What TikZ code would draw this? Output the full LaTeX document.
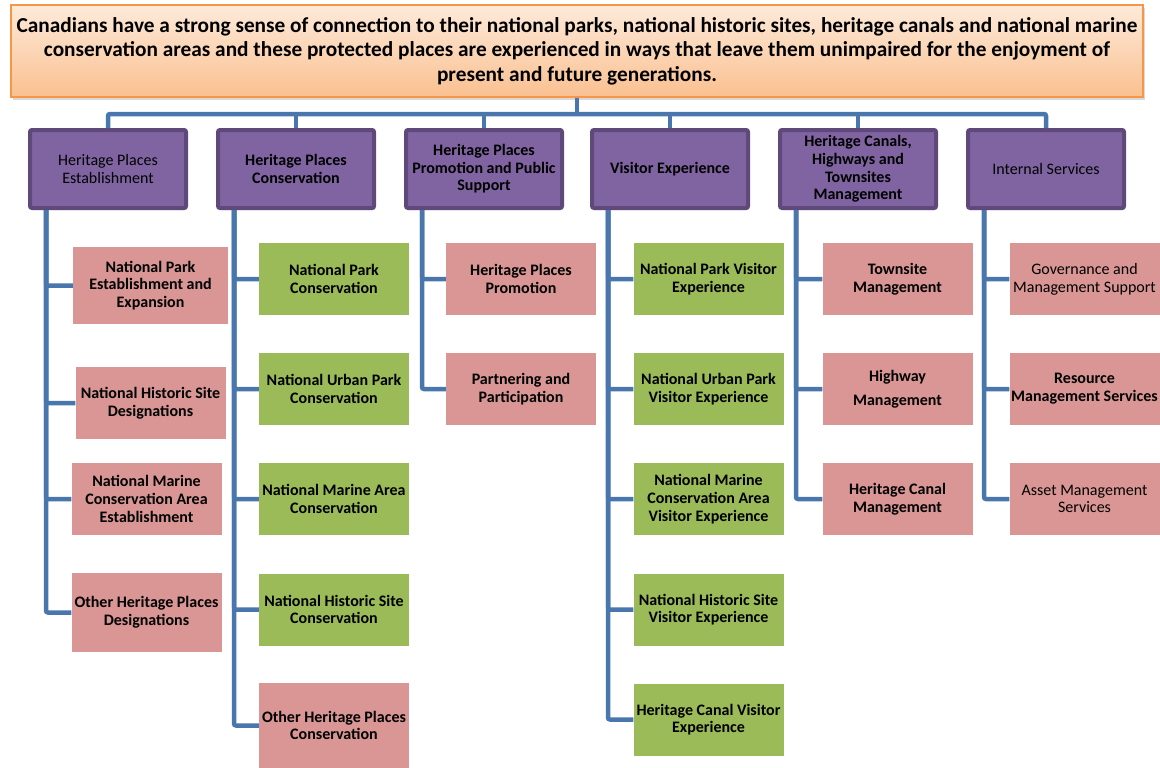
\documentclass[tikz,border=0pt]{standalone}
\usepackage{fontspec}
\setmainfont{Carlito}
\usetikzlibrary{shadows}
\definecolor{goalTop}{HTML}{FDEADA}
\definecolor{goalBot}{HTML}{FAC090}
\definecolor{goalLine}{HTML}{F79646}
\definecolor{areaFill}{HTML}{8064A2}
\definecolor{areaLine}{HTML}{5F497A}
\definecolor{progPink}{HTML}{D99694}
\definecolor{progGreen}{HTML}{9BBB59}
\definecolor{linkBlue}{HTML}{4A76AE}

\begin{document}
\begin{tikzpicture}[x=1pt, y=-1pt,
            goal/.style={draw=goalLine, line width=1.5pt, top color=goalTop,
                    bottom color=goalBot, minimum width=1132pt, minimum height=92pt,
                    inner sep=1pt, align=center,
                    font=\fontsize{21.3}{24.5}\selectfont\bfseries,
                    drop shadow={shadow xshift=2pt, shadow yshift=-3pt, opacity=0.3}},
            area/.style={draw=areaLine, line width=4pt, fill=areaFill,
                    rounded corners=2pt, minimum width=156pt, minimum height=78pt,
                    inner sep=1pt, align=center,
                    font=\fontsize{16}{17.6}\selectfont\bfseries,
                    drop shadow={shadow xshift=1.5pt, shadow yshift=-2pt, opacity=0.25}},
            prog/.style={fill=progPink, minimum width=150pt, minimum height=72pt,
                    inner sep=1pt, align=center,
                    font=\fontsize{16}{17.7}\selectfont\bfseries},
            progG/.style={prog, fill=progGreen},
            light/.style={font=\fontsize{16}{17.7}\selectfont},
            link/.style={draw=linkBlue, line width=4.5pt, rounded corners=2pt}
        ]
        \useasboundingbox (0,0) rectangle (1160,768);
        \def\xb{334}
        \def\xc{521}
        \def\xd{708.5}
        \def\xe{897.5}
        \def\xf{1084.5}
        \def\ra{279}
        \def\rb{389}
        \def\rc{499}
        \def\rd{609.5}
        \def\re{719.5}

        \node[goal] (goal) at (577,51) {Canadians have a strong sense of connection to their national parks, national historic sites, heritage canals and national marine\\conservation areas and these protected places are experienced in ways that leave them unimpaired for the enjoyment of\\present and future generations.};

        \node[area, light] (h1) at (108,169) {Heritage Places\\Establishment};
        \node[area] (h2) at (296,169) {Heritage Places\\Conservation};
        \node[area] (h3) at (484,169) {Heritage Places\\Promotion and Public\\Support};
        \node[area] (h4) at (670,169) {Visitor Experience};
        \node[area] (h5) at (858,169) {Heritage Canals,\\Highways and\\Townsites\\Management};
        \node[area, light] (h6) at (1046,169) {Internal Services};

        \node[prog, minimum width=155pt, minimum height=77pt] (e1) at (150.5,285.5) {National Park\\Establishment and\\Expansion};
        \node[prog] (e2) at (150.5,403) {National Historic Site\\Designations};
        \node[prog] (e3) at (146.5,499) {National Marine\\Conservation Area\\Establishment};
        \node[prog, minimum height=79pt] (e4) at (146.5,612.5) {Other Heritage Places\\Designations};

        \node[progG] (c1) at (\xb,\ra) {National Park\\Conservation};
        \node[progG] (c2) at (\xb,\rb) {National Urban Park\\Conservation};
        \node[progG] (c3) at (\xb,\rc) {National Marine Area\\Conservation};
        \node[progG] (c4) at (\xb,\rd) {National Historic Site\\Conservation};
        \node[prog, minimum height=85pt] (c5) at (\xb,725.5) {Other Heritage Places\\Conservation};

        \node[prog] (p1) at (\xc,\ra) {Heritage Places\\Promotion};
        \node[prog] (p2) at (\xc,\rb) {Partnering and\\Participation};

        \node[progG] (v1) at (\xd,\ra) {National Park Visitor\\Experience};
        \node[progG] (v2) at (\xd,\rb) {National Urban Park\\Visitor Experience};
        \node[progG] (v3) at (\xd,\rc) {National Marine\\Conservation Area\\Visitor Experience};
        \node[progG] (v4) at (\xd,\rd) {National Historic Site\\Visitor Experience};
        \node[progG] (v5) at (\xd,\re) {Heritage Canal Visitor\\Experience};

        \node[prog] (t1) at (\xe,\ra) {Townsite\\Management};
        \node[prog] (t2) at (\xe,\rb) {Highway\\[6.3pt]Management};
        \node[prog] (t3) at (\xe,\rc) {Heritage Canal\\Management};

        \node[prog, light] (s1) at (\xf,\ra) {Governance and\\Management Support};
        \node[prog] (s2) at (\xf,\rb) {Resource\\Management Services};
        \node[prog, light] (s3) at (\xf,\rc) {Asset Management\\Services};

        \coordinate (bus) at (577,114);
        \draw[link] (goal.south) -- (bus);
        \draw[link] (h1.north) |- (bus) -| (h6.north);
        \foreach \h in {h2,h3,h4,h5} {
            \draw[link] (\h.north) -- (\h.north |- bus);
        }

        \foreach \b in {e1,e2,e3,e4} {
            \draw[link] ([xshift=18pt]h1.south west) |- (\b.west);
        }
        \foreach \b in {c1,c2,c3,c4,c5} {
            \draw[link] ([xshift=18pt]h2.south west) |- (\b.west);
        }
        \foreach \b in {p1,p2} {
            \draw[link] ([xshift=18pt]h3.south west) |- (\b.west);
        }
        \foreach \b in {v1,v2,v3,v4,v5} {
            \draw[link] ([xshift=18pt]h4.south west) |- (\b.west);
        }
        \foreach \b in {t1,t2,t3} {
            \draw[link] ([xshift=18pt]h5.south west) |- (\b.west);
        }
        \foreach \b in {s1,s2,s3} {
            \draw[link] ([xshift=18pt]h6.south west) |- (\b.west);
        }
    \end{tikzpicture}
\end{document}
